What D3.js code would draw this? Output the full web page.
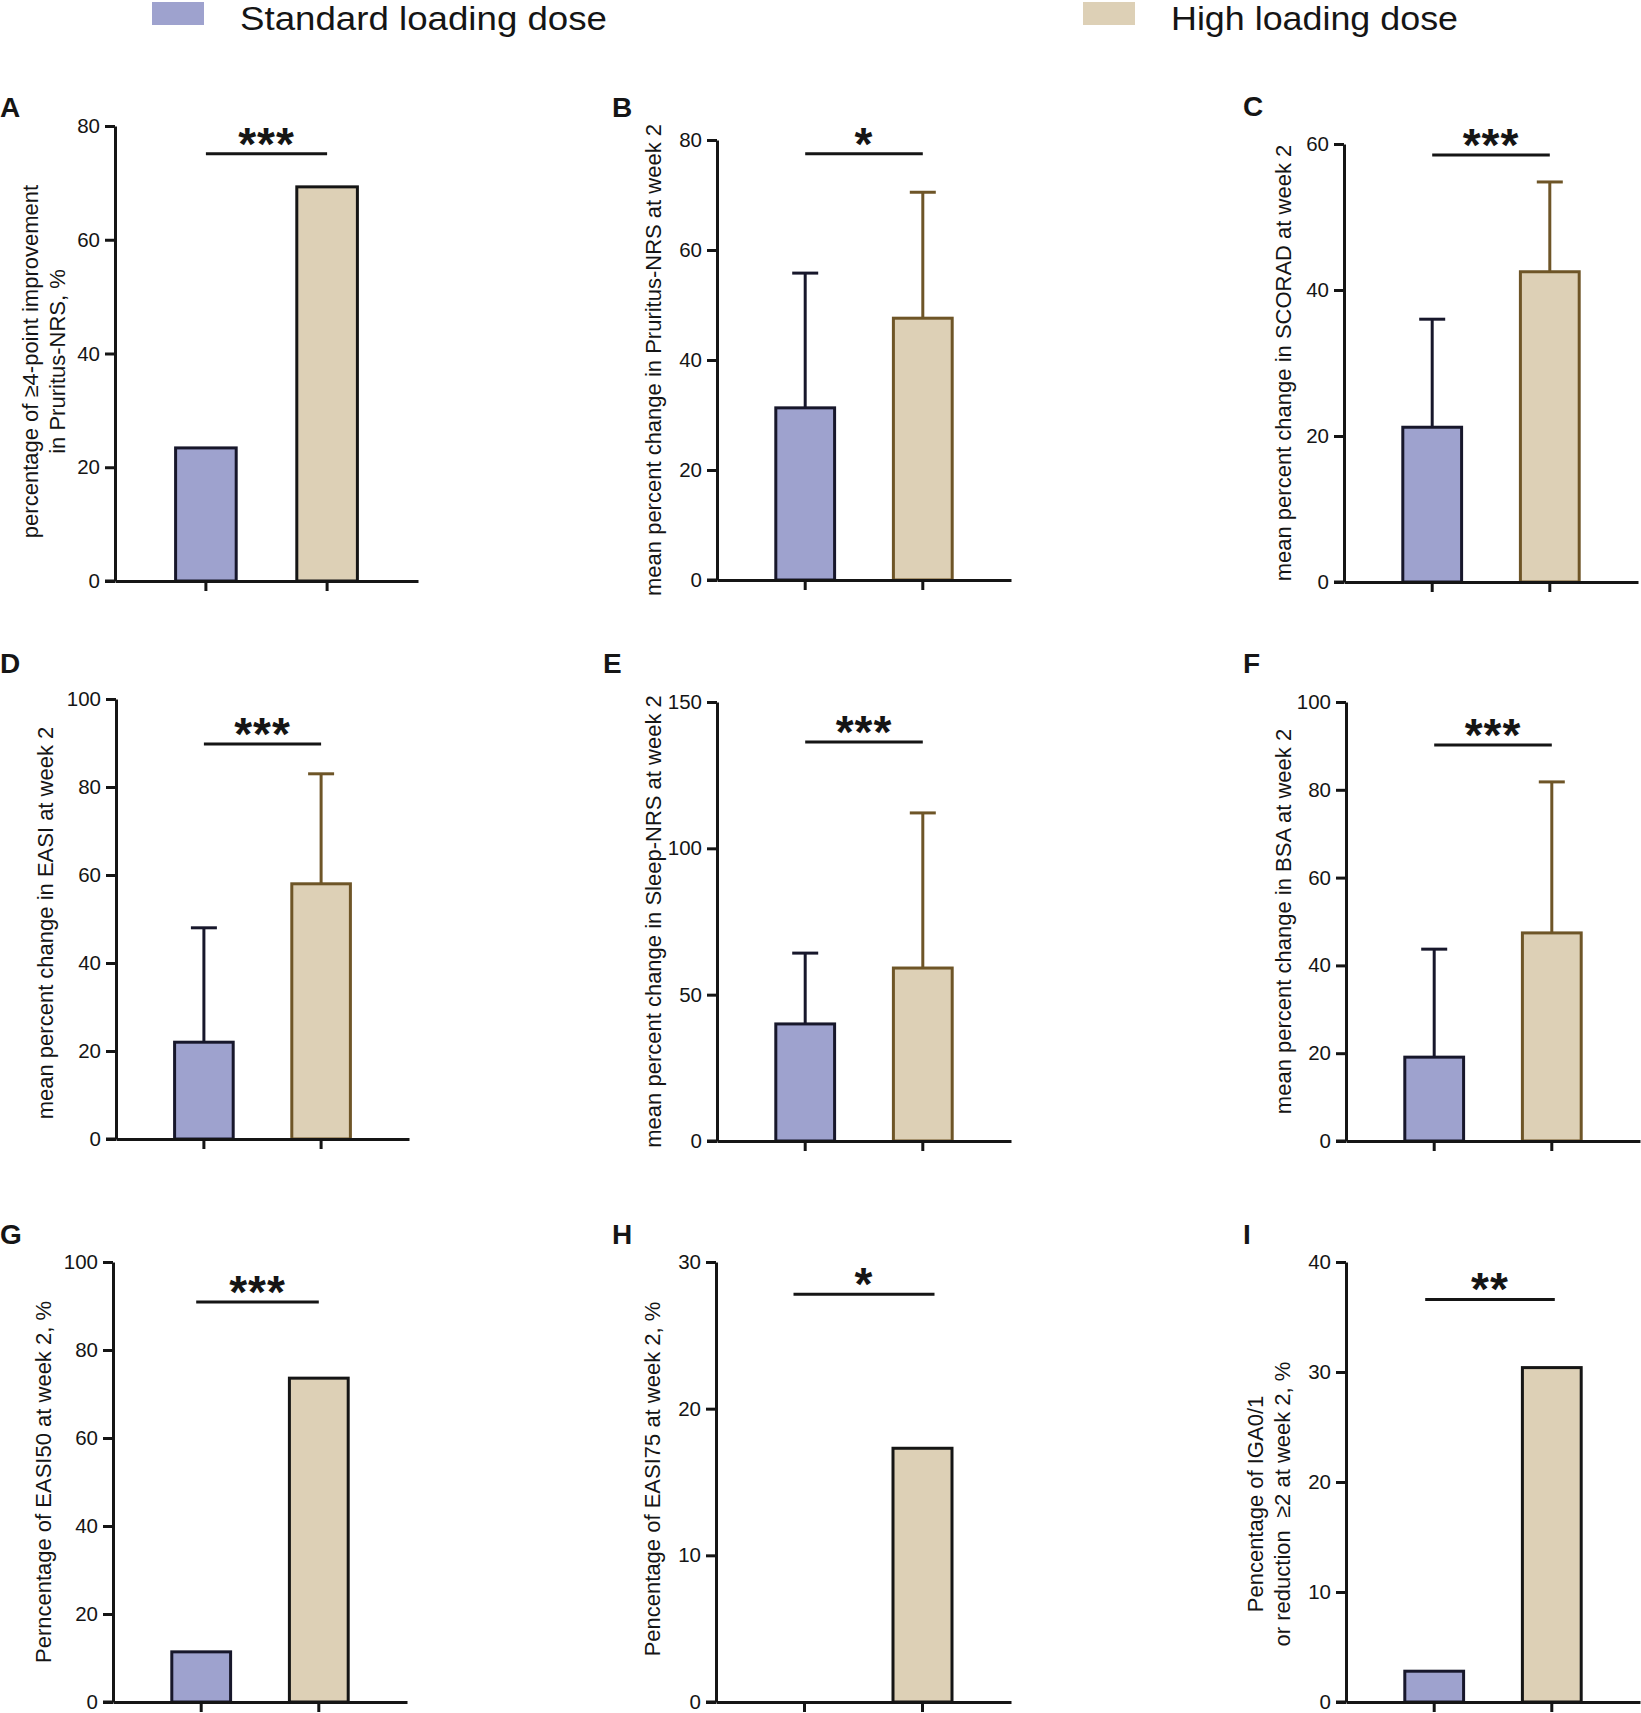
<!DOCTYPE html>
<html>
<head>
<meta charset="utf-8">
<script src="https://cdn.jsdelivr.net/npm/d3@7"></script>
<style>
body { margin: 0; background: #fff; }
svg { display: block; font-family: "Liberation Sans", Arial, Helvetica, sans-serif; }
</style>
</head>
<body>
<svg id="chart" width="1641" height="1713"></svg>
<script>
// ---------- data ----------
const groups = ["Standard loading dose", "High loading dose"];
const panelIds = ["A", "B", "C", "D", "E", "F", "G", "H", "I"];
const yTitles = [
    ["percentage of \u22654-point improvement", "in Pruritus-NRS, %"],
    ["mean percent change in Pruritus-NRS at week 2"],
    ["mean percent change in SCORAD at week 2"],
    ["mean percent change in EASI at week 2"],
    ["mean percent change in Sleep-NRS at week 2"],
    ["mean percent change in BSA at week 2"],
    ["Perncentage of EASI50 at week 2, %"],
    ["Pencentage of EASI75 at week 2, %"],
    ["Pencentage of IGA0/1", "or reduction\u00a0 \u22652 at week 2, %"]
];
const yMax = [80, 80, 60, 100, 150, 100, 100, 30, 40];
const yStep = [20, 20, 20, 20, 50, 20, 20, 10, 10];
const standardMean = [23.4, 31.3, 21.2, 22.0, 40.0, 19.1, 11.4, 0, 2.8];
const highMean = [69.3, 47.6, 42.5, 58.0, 59.1, 47.4, 73.6, 17.3, 30.4];
const standardSD = [null, 24.5, 14.8, 26.0, 24.2, 24.6, null, null, null];
const highSD = [null, 22.9, 12.3, 25.0, 53.0, 34.4, null, null, null];
const significance = ["***", "*", "***", "***", "***", "***", "***", "*", "**"];
const bracketLevel = [75.1, 77.5, 58.5, 89.8, 136.3, 90.2, 90.9, 27.8, 36.6];

// ---------- layout ----------
const boxes = [
    {left: 115, right: 418, top: 126, bottom: 581, lx: 0, ly: 117, tx: [-85, -58], tdy: 8, ext: [0, 0]},
    {left: 717, right: 1011, top: 140, bottom: 580, lx: 612, ly: 117, tx: [-64], tdy: 0, ext: [0, 0]},
    {left: 1344, right: 1638, top: 144, bottom: 582, lx: 1243, ly: 116, tx: [-61], tdy: 0, ext: [0, 0]},
    {left: 116, right: 409, top: 699, bottom: 1139, lx: 0, ly: 673, tx: [-71], tdy: 4, ext: [0, 0]},
    {left: 717, right: 1011, top: 702, bottom: 1141, lx: 603, ly: 673, tx: [-64], tdy: 0, ext: [0, 0]},
    {left: 1346, right: 1640, top: 702, bottom: 1141, lx: 1243, ly: 673, tx: [-63], tdy: 0, ext: [0, 0]},
    {left: 113, right: 407, top: 1262, bottom: 1702, lx: 0, ly: 1244, tx: [-70], tdy: 0, ext: [5, 0]},
    {left: 716, right: 1011, top: 1262, bottom: 1702, lx: 612, ly: 1244, tx: [-64], tdy: -3, ext: [11, 12]},
    {left: 1346, right: 1640, top: 1262, bottom: 1702, lx: 1243, ly: 1244, tx: [-91, -64], tdy: 22, ext: [9, 3]}
];

const fills = ["#9ea2ce", "#ddd0b6"];
const ink = "#151515";
const navy = "#17172b";
const brown = "#6e5527";

const svg = d3.select("#chart");

// ---------- legend ----------
const legendX = [152, 1083];
const legendW = [367, 287];
groups.forEach((g, i) => {
    svg.append("rect").attr("x", legendX[i]).attr("y", 2).attr("width", 52).attr("height", 23)
        .attr("fill", fills[i]);
    svg.append("text").attr("x", legendX[i] + 88).attr("y", 30)
        .attr("font-size", 33).attr("fill", ink)
        .attr("textLength", legendW[i]).attr("lengthAdjust", "spacingAndGlyphs")
        .text(g);
});

// ---------- panels ----------
panelIds.forEach((id, p) => {
    const b = boxes[p];
    const hasErr = standardSD[p] != null;
    const strokes = [navy, hasErr ? brown : ink];
    const g = svg.append("g");

    const x = d3.scaleBand().domain([0, 1]).range([b.left, b.right]).paddingInner(0.5).paddingOuter(0.5);
    const y = d3.scaleLinear().domain([0, yMax[p]]).range([b.bottom, b.top]);

    // panel letter
    g.append("text").attr("x", b.lx).attr("y", b.ly).attr("font-size", 28).attr("font-weight", "bold")
        .attr("fill", ink).text(id);

    // bars + error bars
    const means = [standardMean[p], highMean[p]];
    const sds = [standardSD[p], highSD[p]];
    means.forEach((v, i) => {
        if (v <= 0) return;
        if (sds[i] != null) {
            const cx = x(i) + x.bandwidth() / 2;
            g.append("line").attr("x1", cx).attr("x2", cx).attr("y1", y(v)).attr("y2", y(v + sds[i]))
                .attr("stroke", strokes[i]).attr("stroke-width", 3);
            g.append("line").attr("x1", cx - 13).attr("x2", cx + 13).attr("y1", y(v + sds[i])).attr("y2", y(v + sds[i]))
                .attr("stroke", strokes[i]).attr("stroke-width", 3);
        }
        g.append("rect").attr("x", x(i)).attr("y", y(v)).attr("width", x.bandwidth()).attr("height", y(0) - y(v))
            .attr("fill", fills[i]).attr("stroke", strokes[i]).attr("stroke-width", 3);
    });

    // axes
    const yAxis = g.append("g").attr("transform", `translate(${b.left},0)`)
        .call(d3.axisLeft(y).tickValues(d3.range(0, yMax[p] + 1, yStep[p])).tickSize(10).tickSizeOuter(0).tickPadding(5));
    const xAxis = g.append("g").attr("transform", `translate(0,${b.bottom})`)
        .call(d3.axisBottom(x).tickFormat("").tickSize(10).tickSizeOuter(0));
    [yAxis, xAxis].forEach(a => {
        a.select(".domain").attr("stroke", ink).attr("stroke-width", 3);
        a.selectAll(".tick line").attr("stroke", ink).attr("stroke-width", 3);
        a.selectAll(".tick text").attr("font-size", 20.5).attr("fill", ink).attr("font-family", null);
    });
    // x axis runs on to the end of the zero tick
    g.append("line").attr("x1", b.left - 10).attr("x2", b.left).attr("y1", b.bottom).attr("y2", b.bottom)
        .attr("stroke", ink).attr("stroke-width", 3);

    // y title
    const yMid = (b.top + b.bottom) / 2 + b.tdy;
    yTitles[p].forEach((line, k) => {
        g.append("text")
            .attr("transform", `translate(${b.left + b.tx[k]},${yMid}) rotate(-90)`)
            .attr("text-anchor", "middle").attr("dominant-baseline", "central")
            .attr("font-size", 22).attr("fill", ink).style("white-space", "pre").text(line);
    });

    // significance bracket
    const x1 = x(0) + x.bandwidth() / 2 - b.ext[0];
    const x2 = x(1) + x.bandwidth() / 2 + b.ext[1];
    const by = y(bracketLevel[p]);
    g.append("line").attr("x1", x1).attr("x2", x2).attr("y1", by).attr("y2", by)
        .attr("stroke", ink).attr("stroke-width", 3);
    g.append("text").attr("x", (x1 + x2) / 2).attr("y", by + 6)
        .attr("text-anchor", "middle").attr("font-size", 46).attr("font-weight", "bold")
        .attr("letter-spacing", 1).attr("fill", ink).text(significance[p]);
});
</script>
</body>
</html>
